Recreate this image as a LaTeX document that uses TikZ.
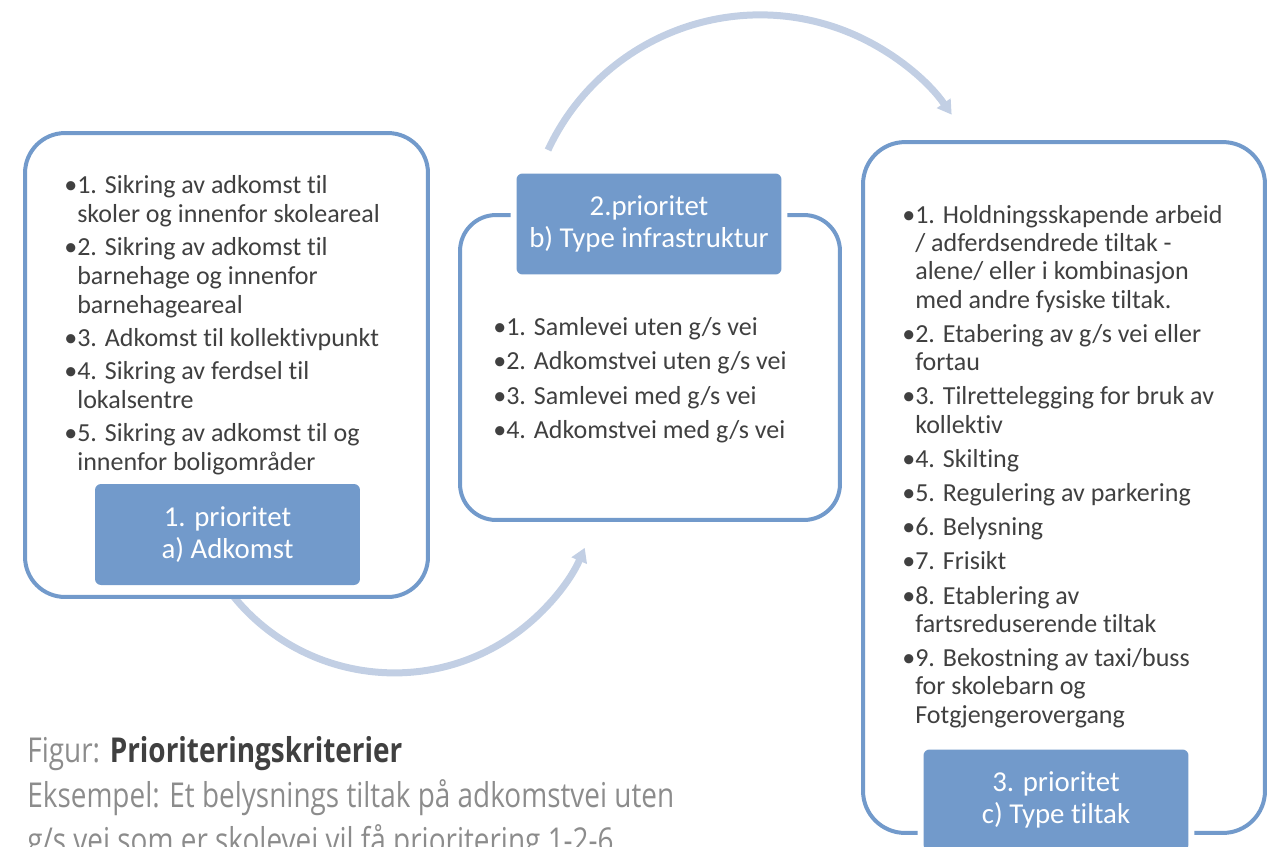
\documentclass[tikz,border=0pt]{standalone}
\usepackage{fontspec}
\setmainfont{Carlito}[Ligatures=NoCommon]
\newfontfamily\capfont{Open Sans}[FakeStretch=0.815]
\usetikzlibrary{arrows.meta}

\definecolor{boxblue}{RGB}{114,154,203}
\definecolor{arrowblue}{RGB}{194,207,228}
\definecolor{textgray}{RGB}{64,64,64}
\definecolor{capgray}{RGB}{140,140,140}
\newcommand{\indt}{\hphantom{•}}

\begin{document}
\begin{tikzpicture}[x=0.02cm,y=-0.02cm,
	bigbox/.style={draw=boxblue,line width=0.08cm,fill=white,inner sep=0},
	prio/.style={fill=boxblue,rounded corners=0.12cm,minimum width=5.3cm,minimum height=2.02cm,
		text=white,align=center,font=\fontsize{16.4}{17.9}\selectfont,
		preaction={draw=white,line width=0.24cm}},
	items/.style={anchor=north west,inner sep=0,align=left,text=textgray},
	turn/.style={draw=arrowblue,line width=0.14cm,-{Triangle[width=0.32cm,length=0.28cm]}}
	]

	\useasboundingbox (0,0) rectangle (1281,846);

	% Arrows between the boxes
	\coordinate (a1) at (230,592);
	\coordinate (a2) at (548,150);
	\draw[turn] (a1) arc[start angle=217.6,end angle=336.6,radius=4.15cm];
	\draw[turn] (a2) arc[start angle=155,end angle=35,radius=4.68cm];

	% Outer boxes
	\node[bigbox,rounded corners=0.8cm,minimum width=8.06cm,minimum height=9.28cm] (box1) at (226.5,365) {};
	\node[bigbox,rounded corners=0.72cm,minimum width=7.6cm,minimum height=6.1cm] (box2) at (650,367.5) {};
	\node[bigbox,rounded corners=0.84cm,minimum width=8.04cm,minimum height=13.82cm] (box3) at (1064,487.5) {};

	% Priority labels
	\node[prio] (prio1) at (227.5,534.5) {1. prioritet\\a) Adkomst};
	\node[prio] (prio2) at (649,224) {2.prioritet\\b) Type infrastruktur};
	\node[prio] (prio3) at (1056,800) {3. prioritet\\c) Type tiltak};

	% Lists
	\node[items,font=\fontsize{14.8}{16.5}\selectfont] (list1) at (64,175) {%
		•1. Sikring av adkomst til\\\indt skoler og innenfor skoleareal\\[2.3pt]
		•2. Sikring av adkomst til\\\indt barnehage og innenfor\\\indt barnehageareal\\[2.3pt]
		•3. Adkomst til kollektivpunkt\\[2.3pt]
		•4. Sikring av ferdsel til\\\indt lokalsentre\\[2.3pt]
		•5. Sikring av adkomst til og\\\indt innenfor boligområder};

	\node[items,font=\fontsize{14.8}{19.6}\selectfont] (list2) at (493,317) {%
		•1. Samlevei uten g/s vei\\
		•2. Adkomstvei uten g/s vei\\
		•3. Samlevei med g/s vei\\
		•4. Adkomstvei med g/s vei};

	\node[items,font=\fontsize{14.8}{16.1}\selectfont] (list3) at (902,205) {%
		•1. Holdningsskapende arbeid\\\indt / adferdsendrede tiltak -\\\indt alene/ eller i kombinasjon\\\indt med andre fysiske tiltak.\\[3.35pt]
		•2. Etabering av g/s vei eller\\\indt fortau\\[3.35pt]
		•3. Tilrettelegging for bruk av\\\indt kollektiv\\[3.35pt]
		•4. Skilting\\[3.35pt]
		•5. Regulering av parkering\\[3.35pt]
		•6. Belysning\\[3.35pt]
		•7. Frisikt\\[3.35pt]
		•8. Etablering av\\\indt fartsreduserende tiltak\\[3.35pt]
		•9. Bekostning av taxi/buss\\\indt for skolebarn og\\\indt Fotgjengerovergang};

	% Caption
	\node[items,font=\capfont\fontsize{19.5}{25.6}\selectfont,text=capgray] (cap) at (27,736) {%
		Figur: {\color{textgray}\bfseries Prioriteringskriterier}\\
		Eksempel: Et belysnings tiltak på adkomstvei uten\\
		g/s vei som er skolevei vil få prioritering 1-2-6};

\end{tikzpicture}
\end{document}
